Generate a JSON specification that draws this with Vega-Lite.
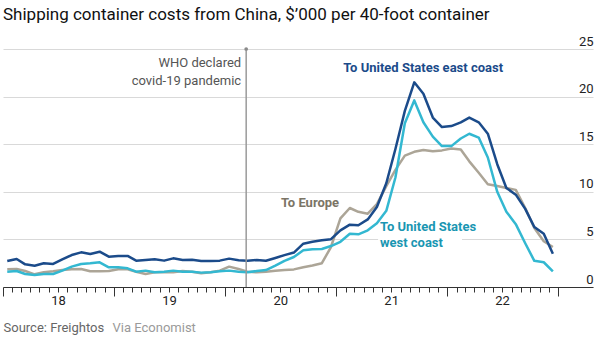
{
  "$schema": "https://vega.github.io/schema/vega-lite/v6.json",
  "width": 590,
  "height": 238,
  "autosize": "none",
  "padding": {"left": 3, "top": 49, "right": 17, "bottom": 61},
  "background": "white",
  "config": {
    "view": {"stroke": null},
    "font": "Roboto",
    "text": {"font": "Roboto"}
  },
  "title": {
    "text": "Shipping container costs from China, $\u2019000 per 40-foot container",
    "anchor": "start",
    "frame": "group",
    "font": "Roboto",
    "fontSize": 17,
    "fontWeight": "normal",
    "color": "#111111",
    "baseline": "middle",
    "offset": 3
  },
  "datasets": {
    "rates": [
      {"date": "2018-01-15", "east": 2.73, "west": 1.61, "europe": 1.86},
      {"date": "2018-02-15", "east": 2.94, "west": 1.68, "europe": 1.89},
      {"date": "2018-03-15", "east": 2.38, "west": 1.37, "europe": 1.68},
      {"date": "2018-04-15", "east": 2.24, "west": 1.26, "europe": 1.33},
      {"date": "2018-05-15", "east": 2.49, "west": 1.37, "europe": 1.54},
      {"date": "2018-06-15", "east": 2.42, "west": 1.37, "europe": 1.65},
      {"date": "2018-07-15", "east": 2.91, "west": 1.72, "europe": 1.79},
      {"date": "2018-08-15", "east": 3.36, "west": 2.14, "europe": 1.86},
      {"date": "2018-09-15", "east": 3.64, "west": 2.42, "europe": 1.89},
      {"date": "2018-10-15", "east": 3.47, "west": 2.49, "europe": 1.65},
      {"date": "2018-11-15", "east": 3.71, "west": 2.59, "europe": 1.65},
      {"date": "2018-12-15", "east": 3.19, "west": 2.07, "europe": 1.68},
      {"date": "2019-01-15", "east": 3.26, "west": 2.07, "europe": 1.86},
      {"date": "2019-02-15", "east": 3.26, "west": 1.96, "europe": 1.86},
      {"date": "2019-03-15", "east": 2.77, "west": 1.61, "europe": 1.61},
      {"date": "2019-04-15", "east": 2.84, "west": 1.72, "europe": 1.37},
      {"date": "2019-05-15", "east": 2.91, "west": 1.54, "europe": 1.54},
      {"date": "2019-06-15", "east": 2.77, "west": 1.61, "europe": 1.54},
      {"date": "2019-07-15", "east": 3.01, "west": 1.72, "europe": 1.54},
      {"date": "2019-08-15", "east": 2.84, "west": 1.61, "europe": 1.68},
      {"date": "2019-09-15", "east": 2.87, "west": 1.61, "europe": 1.61},
      {"date": "2019-10-15", "east": 2.73, "west": 1.51, "europe": 1.44},
      {"date": "2019-11-15", "east": 2.73, "west": 1.54, "europe": 1.54},
      {"date": "2019-12-15", "east": 2.77, "west": 1.65, "europe": 1.72},
      {"date": "2020-01-15", "east": 2.98, "west": 1.72, "europe": 2.14},
      {"date": "2020-02-15", "east": 2.8, "west": 1.61, "europe": 1.89},
      {"date": "2020-03-15", "east": 2.77, "west": 1.54, "europe": 1.61},
      {"date": "2020-04-15", "east": 2.84, "west": 1.68, "europe": 1.54},
      {"date": "2020-05-15", "east": 2.75, "west": 1.78, "europe": 1.6},
      {"date": "2020-06-15", "east": 3.05, "west": 2.25, "europe": 1.7},
      {"date": "2020-07-15", "east": 3.35, "west": 2.75, "europe": 1.78},
      {"date": "2020-08-15", "east": 3.62, "west": 3.15, "europe": 1.85},
      {"date": "2020-09-15", "east": 4.55, "west": 3.85, "europe": 2.08},
      {"date": "2020-10-15", "east": 4.75, "west": 3.97, "europe": 2.25},
      {"date": "2020-11-15", "east": 4.9, "west": 3.99, "europe": 2.5},
      {"date": "2020-12-15", "east": 5.02, "west": 4.3, "europe": 4.2},
      {"date": "2021-01-15", "east": 5.95, "west": 4.75, "europe": 7.2},
      {"date": "2021-02-15", "east": 6.55, "west": 5.6, "europe": 8.3},
      {"date": "2021-03-15", "east": 6.48, "west": 5.53, "europe": 7.9},
      {"date": "2021-04-15", "east": 7.1, "west": 5.95, "europe": 7.7},
      {"date": "2021-05-15", "east": 8.4, "west": 6.7, "europe": 8.7},
      {"date": "2021-06-15", "east": 10.9, "west": 8.0, "europe": 10.6},
      {"date": "2021-07-15", "east": 14.5, "west": 11.5, "europe": 12.3},
      {"date": "2021-08-15", "east": 18.5, "west": 17.2, "europe": 13.8},
      {"date": "2021-09-15", "east": 21.5, "west": 19.6, "europe": 14.2},
      {"date": "2021-10-15", "east": 20.3, "west": 17.3, "europe": 14.4},
      {"date": "2021-11-15", "east": 17.8, "west": 15.8, "europe": 14.25},
      {"date": "2021-12-15", "east": 16.8, "west": 14.8, "europe": 14.35},
      {"date": "2022-01-15", "east": 16.9, "west": 14.8, "europe": 14.55},
      {"date": "2022-02-15", "east": 17.3, "west": 15.6, "europe": 14.45},
      {"date": "2022-03-15", "east": 17.8, "west": 16.1, "europe": 13.2},
      {"date": "2022-04-15", "east": 17.3, "west": 15.7, "europe": 12.0},
      {"date": "2022-05-15", "east": 16.1, "west": 13.6, "europe": 10.8},
      {"date": "2022-06-15", "east": 12.9, "west": 10.0, "europe": 10.6},
      {"date": "2022-07-15", "east": 10.4, "west": 7.9, "europe": 10.4},
      {"date": "2022-08-15", "east": 9.7, "west": 6.6, "europe": 10.2},
      {"date": "2022-09-15", "east": 8.2, "west": 4.6, "europe": 8.3},
      {"date": "2022-10-15", "east": 6.3, "west": 2.75, "europe": 6.2},
      {"date": "2022-11-15", "east": 5.6, "west": 2.6, "europe": 4.8},
      {"date": "2022-12-15", "east": 3.5, "west": 1.65, "europe": 4.2}
    ]
  },
  "encoding": {
    "x": {
      "field": "date",
      "type": "temporal",
      "scale": {"type": "utc", "domain": [1514764800000, 1682467200000]},
      "axis": {
        "title": "Source: Freightos",
        "titleFont": "Roboto",
        "titleFontSize": 13,
        "titleFontWeight": "normal",
        "titleColor": "#666666",
        "titleAnchor": "start",
        "titleAlign": "left",
        "titleBaseline": "middle",
        "titleX": 0,
        "titleY": 40,
        "grid": false,
        "domainColor": "#333333",
        "domainWidth": 1.2,
        "tickColor": "#333333",
        "tickWidth": 1,
        "tickSize": {"condition": {"test": "utcmonth(datum.value) == 0", "value": 9}, "value": 5},
        "labelExpr": "utcmonth(datum.value) == 6 ? utcFormat(datum.value, '%y') : ''",
        "labelOverlap": false,
        "labelFlush": false,
        "labelFont": "Roboto",
        "labelFontSize": 13,
        "labelColor": "#222222",
        "labelPadding": 2,
        "values": [
          1514764800000, 1517443200000, 1519862400000, 1522540800000, 1525132800000, 1527811200000, 1530403200000, 1533081600000, 1535760000000, 1538352000000, 1541030400000, 1543622400000,
          1546300800000, 1548979200000, 1551398400000, 1554076800000, 1556668800000, 1559347200000, 1561939200000, 1564617600000, 1567296000000, 1569888000000, 1572566400000, 1575158400000,
          1577836800000, 1580515200000, 1583020800000, 1585699200000, 1588291200000, 1590969600000, 1593561600000, 1596240000000, 1598918400000, 1601510400000, 1604188800000, 1606780800000,
          1609459200000, 1612137600000, 1614556800000, 1617235200000, 1619827200000, 1622505600000, 1625097600000, 1627776000000, 1630454400000, 1633046400000, 1635724800000, 1638316800000,
          1640995200000, 1643673600000, 1646092800000, 1648771200000, 1651363200000, 1654041600000, 1656633600000, 1659312000000, 1661990400000, 1664582400000, 1667260800000, 1669852800000,
          1672531200000
        ]
      }
    },
    "y": {
      "field": "value",
      "type": "quantitative",
      "scale": {"domain": [0, 25], "nice": false},
      "axis": {
        "orient": "right",
        "values": [0, 5, 10, 15, 20, 25],
        "domain": false,
        "ticks": false,
        "tickSize": 0,
        "grid": true,
        "gridColor": "#d9d9d9",
        "gridWidth": 1,
        "labelAlign": "right",
        "labelBaseline": "alphabetic",
        "labelOffset": -4,
        "labelPadding": 0,
        "labelFont": "Roboto",
        "labelFontSize": 13,
        "labelColor": "#222222",
        "title": "Via Economist",
        "titleAngle": 0,
        "titleFont": "Roboto",
        "titleFontSize": 13,
        "titleFontWeight": "normal",
        "titleColor": "#9a9a9a",
        "titleAlign": "left",
        "titleBaseline": "middle",
        "titleX": -481,
        "titleY": 278
      }
    }
  },
  "layer": [
    {
      "data": {"name": "rates"},
      "transform": [{"fold": ["europe", "west", "east"], "as": ["route", "value"]}],
      "mark": {"type": "line", "strokeWidth": 2.5, "strokeJoin": "round"},
      "encoding": {
        "color": {
          "field": "route",
          "type": "nominal",
          "scale": {"domain": ["east", "west", "europe"], "range": ["#1b4b8a", "#33b8d1", "#aca597"]},
          "legend": null
        },
        "order": {"field": "route"}
      }
    },
    {
      "data": {"values": [{"date": "2021-05-19", "date2": "2022-02-19", "value": 3.9, "value2": 5.6}]},
      "mark": {"type": "rect", "fill": "white"},
      "encoding": {
        "x2": {"field": "date2"},
        "y2": {"field": "value2"}
      }
    },
    {
      "data": {"values": [{"date": "2020-03-11", "value": 0, "value2": 25}]},
      "mark": {"type": "rule", "color": "#9a9a9a", "strokeWidth": 1.5},
      "encoding": {
        "y2": {"field": "value2"}
      }
    },
    {
      "data": {"values": [{"date": "2020-03-11", "value": 25}]},
      "mark": {"type": "point", "filled": true, "color": "#8a8a8a", "size": 14, "opacity": 1},
      "encoding": {}
    },
    {
      "data": {"values": [
        {"label": "To United States east coast", "date": "2021-10-14", "value": 23.0}
      ]},
      "mark": {"type": "text", "font": "Roboto", "fontSize": 13, "fontWeight": "bold", "color": "#1b4b8a", "align": "center", "baseline": "middle"},
      "encoding": {
        "text": {"field": "label"}
      }
    },
    {
      "data": {"values": [
        {"label": "To Europe", "date": "2020-10-07", "value": 8.82}
      ]},
      "mark": {"type": "text", "font": "Roboto", "fontSize": 13, "fontWeight": "bold", "color": "#7b7566", "align": "center", "baseline": "middle"},
      "encoding": {
        "text": {"field": "label"}
      }
    },
    {
      "data": {"values": [
        {"label": "To United States", "date": "2021-05-25", "value": 6.33},
        {"label": "west coast", "date": "2021-05-25", "value": 4.65}
      ]},
      "mark": {"type": "text", "font": "Roboto", "fontSize": 13, "fontWeight": "bold", "color": "#1a96b2", "align": "left", "baseline": "middle"},
      "encoding": {
        "text": {"field": "label"}
      }
    },
    {
      "data": {"values": [
        {"label": "WHO declared", "date": "2020-03-11", "value": 23.5},
        {"label": "covid-19 pandemic", "date": "2020-03-11", "value": 21.6}
      ]},
      "mark": {"type": "text", "font": "Roboto", "fontSize": 13, "color": "#555555", "align": "right", "baseline": "middle", "dx": -5},
      "encoding": {
        "text": {"field": "label"}
      }
    }
  ]
}
